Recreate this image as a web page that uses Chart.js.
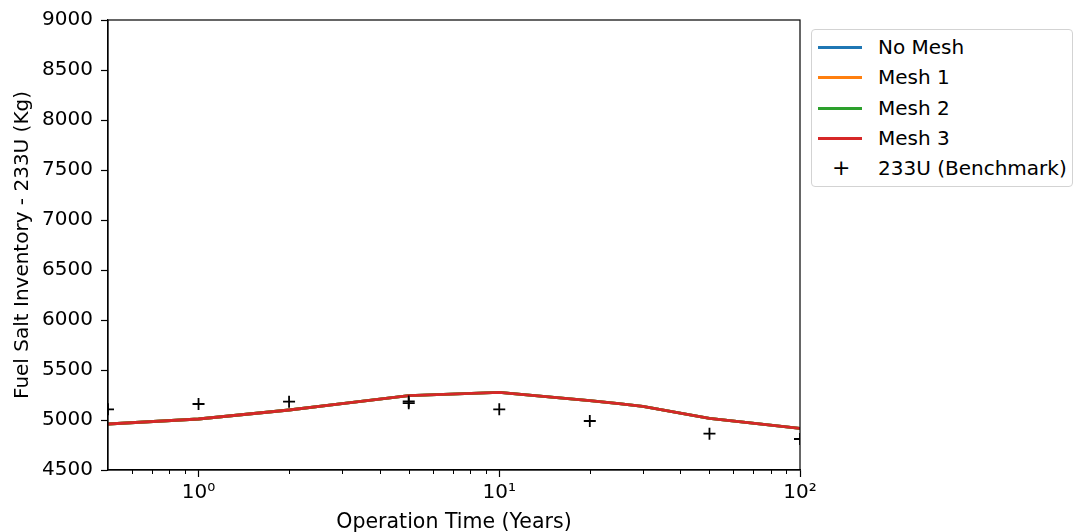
<!DOCTYPE html>
<html>
<head>
<meta charset="utf-8">
<script src="https://cdn.jsdelivr.net/npm/chart.js@4.4.0/dist/chart.umd.min.js"></script>
<style>
  body { margin: 0; background: #fff; font-family: "DejaVu Sans", sans-serif; }
  #wrap { position: relative; width: 1073px; height: 532px; overflow: hidden; }
  #legend { position: absolute; left: 811px; top: 29px; width: 262px; height: 158px;
            border: 1px solid #d3d3d3; border-radius: 4px; box-sizing: border-box; background: #fff; }
  .row { position: absolute; left: 0; height: 24px; font-size: 20px; line-height: 24px; color: #000; white-space: nowrap; }
  .row .sw { position: absolute; left: 6px; top: 11px; width: 44px; height: 2.5px; }
  .row .mk { position: absolute; left: 20px; top: 0; width: 16px; text-align: center; font-size: 22px; }
  .row .tx { position: absolute; left: 66px; top: 0; }
</style>
</head>
<body>
<div id="wrap">
  <canvas id="chart"></canvas>
  <div id="legend"></div>
</div>
<script>
// operation time (years)
const times = [0.5, 1, 2, 3, 5, 10, 20, 25, 30, 50, 100];
const noMesh = [4960, 5010, 5100, 5163, 5243, 5277, 5193, 5163, 5137, 5017, 4917];
const mesh1  = [4960, 5010, 5100, 5163, 5243, 5277, 5193, 5163, 5137, 5017, 4917];
const mesh2  = [4960, 5010, 5100, 5163, 5243, 5277, 5193, 5163, 5137, 5017, 4917];
const mesh3  = [4960, 5010, 5100, 5163, 5243, 5277, 5193, 5163, 5137, 5017, 4917];

// benchmark 233U
const benchTimes = [0.5, 1, 2, 5, 5, 10, 20, 50, 100];
const benchVals  = [5107, 5160, 5183, 5168, 5186, 5107, 4990, 4863, 4810];

const majorTicks = [1, 10, 100];
const majorLabels = ['10\u2070', '10\u00b9', '10\u00b2'];
const minorTicks = [0.6, 0.7, 0.8, 0.9, 2, 3, 4, 5, 6, 7, 8, 9, 20, 30, 40, 50, 60, 70, 80, 90];

const seriesDefs = [
  { label: 'No Mesh', data: noMesh, color: '#1f77b4' },
  { label: 'Mesh 1',  data: mesh1,  color: '#ff7f0e' },
  { label: 'Mesh 2',  data: mesh2,  color: '#2ca02c' },
  { label: 'Mesh 3',  data: mesh3,  color: '#d62728' }
];

// later series drawn on top, like matplotlib
const datasets = seriesDefs.map((s, i) => ({
  type: 'line',
  label: s.label,
  data: times.map((t, j) => ({ x: t, y: s.data[j] })),
  borderColor: s.color,
  backgroundColor: s.color,
  borderWidth: 2.8,
  pointRadius: 0,
  tension: 0,
  fill: false,
  order: 10 - i
}));

datasets.push({
  type: 'scatter',
  label: '233U (Benchmark)',
  data: benchTimes.map((t, i) => ({ x: t, y: benchVals[i] })),
  pointStyle: 'cross',
  pointRadius: 6,
  borderColor: '#000',
  backgroundColor: '#000',
  borderWidth: 1.8,
  order: 0
});

// frame on all four sides + short minor ticks on log axis
const framePlugin = {
  id: 'frame',
  afterDraw(chart) {
    const { ctx, chartArea: a, scales: { x } } = chart;
    ctx.save();
    ctx.strokeStyle = '#000';
    ctx.lineWidth = 1.2;
    ctx.strokeRect(a.left, a.top, a.right - a.left, a.bottom - a.top);
    ctx.lineWidth = 1;
    minorTicks.forEach(v => {
      const px = Math.round(x.getPixelForValue(v)) + 0.5;
      ctx.beginPath();
      ctx.moveTo(px, a.bottom);
      ctx.lineTo(px, a.bottom + 4);
      ctx.stroke();
    });
    ctx.restore();
  }
};

const font = { family: '"DejaVu Sans", sans-serif', size: 20 };

new Chart(document.getElementById('chart'), {
  data: { datasets: datasets },
  options: {
    responsive: true,
    maintainAspectRatio: false,
    animation: false,
    layout: { padding: { top: 20, right: 273, left: 0, bottom: 0 } },
    plugins: {
      legend: { display: false },
      tooltip: { enabled: false }
    },
    scales: {
      x: {
        type: 'logarithmic',
        min: 0.5,
        max: 100,
        afterBuildTicks: s => { s.ticks = majorTicks.map(v => ({ value: v })); },
        afterFit: s => { s.height = 62; },
        grid: { drawOnChartArea: false, drawTicks: true, tickLength: 7, color: '#000', tickColor: '#000', tickWidth: 1.2 },
        border: { display: true, color: '#000', width: 1.2 },
        ticks: {
          autoSkip: false,
          maxRotation: 0,
          padding: 4,
          color: '#000',
          font: font,
          callback: v => {
            const i = majorTicks.indexOf(v);
            return i >= 0 ? majorLabels[i] : '';
          }
        },
        title: { display: true, text: 'Operation Time (Years)', color: '#000', font: { family: font.family, size: 20.5 }, padding: { top: 0, bottom: -3 } }
      },
      y: {
        min: 4500,
        max: 9000,
        afterFit: s => { s.width = 108; },
        grid: { drawOnChartArea: false, drawTicks: true, tickLength: 7, color: '#000', tickColor: '#000', tickWidth: 1.2 },
        border: { display: true, color: '#000', width: 1.2 },
        ticks: { stepSize: 500, padding: 8, color: '#000', font: font, callback: v => String(v) },
        title: { display: true, text: 'Fuel Salt Inventory - 233U (Kg)', color: '#000', font: font, padding: { top: 11, bottom: 0 } }
      }
    }
  },
  plugins: [framePlugin]
});

// legend
const legend = document.getElementById('legend');
const rowTops = [5, 35, 66, 96, 126];
seriesDefs.forEach((s, i) => {
  const r = document.createElement('div');
  r.className = 'row';
  r.style.top = rowTops[i] + 'px';
  r.innerHTML = '<span class="sw" style="background:' + s.color + '"></span><span class="tx">' + s.label + '</span>';
  legend.appendChild(r);
});
const br = document.createElement('div');
br.className = 'row';
br.style.top = rowTops[4] + 'px';
br.innerHTML = '<span class="mk">+</span><span class="tx">233U (Benchmark)</span>';
legend.appendChild(br);
</script>
</body>
</html>
